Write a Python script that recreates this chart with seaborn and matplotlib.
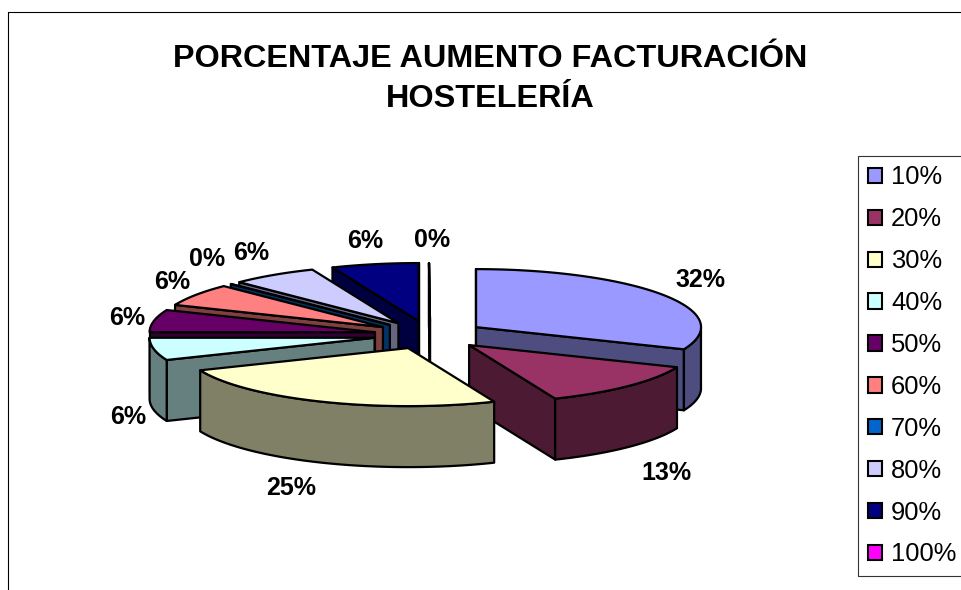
import numpy as np
import matplotlib
matplotlib.use("Agg")
import matplotlib.pyplot as plt
from matplotlib.patches import Patch, Polygon, Rectangle
import seaborn as sns

# data
categories = ["10%", "20%", "30%", "40%", "50%", "60%", "70%", "80%", "90%", "100%"]
shares = [31.25, 12.5, 25, 6.25, 6.25, 6.25, 0, 6.25, 6.25, 0]
slice_labels = ["32%", "13%", "25%", "6%", "6%", "6%", "0%", "6%", "6%", "0%"]
top_colors = ["#9999FF", "#993366", "#FFFFCC", "#CCFFFF", "#660066",
              "#FF8080", "#0066CC", "#CCCCFF", "#000080", "#FF00FF"]
title_text = "PORCENTAJE AUMENTO FACTURACIÓN\nHOSTELERÍA"

# layout, in figure pixels
CX, CY = 429.5, 335
RX, RY = 225, 58
EXPLODE_X, EXPLODE_Y = 56, 14.2
DEPTH = 61
label_xy = [(700, 280), (666, 473), (291, 488), (128, 417), (127, 318),
            (172, 282), (207, 259), (251, 253), (365, 241), (432, 240)]
# back slices first, so the front ones cover them
draw_order = [9, 8, 7, 6, 5, 4, 3, 0, 1, 2]

sns.set_style("white")
plt.rcParams["font.family"] = ["Liberation Sans", "DejaVu Sans"]
plt.rcParams["text.color"] = "black"

fig = plt.figure(figsize=(9.61, 5.9), dpi=100)
ax = fig.add_axes([0, 0, 1, 1])
ax.set_xlim(0, 961)
ax.set_ylim(590, 0)
ax.axis("off")

# chart frame, runs off the right and bottom of the picture
ax.add_patch(Rectangle((8, 12), 1000, 700, fill=False, edgecolor="black", lw=0.8))

ax.text(490, 79, title_text, ha="center", va="center", fontsize=23.3,
        fontweight="bold", linespacing=1.4)

colors = sns.color_palette(top_colors)
side_colors = [tuple(c * 0.5 for c in col) for col in colors]

edges = np.cumsum([0] + shares) / sum(shares) * 2 * np.pi


def face(points, color, z):
    ax.add_patch(Polygon(points, closed=True, facecolor=color, edgecolor="black",
                         lw=1.6, joinstyle="round", zorder=z))


for n, i in enumerate(draw_order):
    t1, t2 = edges[i], edges[i + 1]
    mid = (t1 + t2) / 2
    ox = CX + EXPLODE_X * np.sin(mid)
    oy = CY - EXPLODE_Y * np.cos(mid)
    z = 2 + n

    arc = np.linspace(t1, t2, 60)
    xs = ox + RX * np.sin(arc)
    ys = oy - RY * np.cos(arc)
    d = np.array([0, DEPTH])
    apex = np.array([ox, oy])
    rim = np.column_stack([xs, ys])

    # radial faces
    if -np.sin(t1) >= -1e-9:
        face([apex, rim[0], rim[0] + d, apex + d], side_colors[i], z)
    if np.sin(t2) >= -1e-9:
        face([apex, rim[-1], rim[-1] + d, apex + d], side_colors[i], z)

    # outer wall, only the part that faces the viewer
    front = np.cos(arc) <= 0
    if front.sum() > 1:
        r = rim[front]
        face(np.vstack([r, (r + d)[::-1]]), side_colors[i], z)

    # top
    face(np.vstack([apex, rim]), colors[i], z)

for label, (x, y) in zip(slice_labels, label_xy):
    ax.text(x, y, label, ha="center", va="center", fontsize=18,
            fontweight="bold", zorder=20)

handles = [Patch(facecolor=c, edgecolor="black", lw=1.5, label=l)
           for c, l in zip(colors, categories)]
ax.legend(handles=handles, loc="upper left", bbox_to_anchor=(858, 155.5),
          bbox_transform=ax.transData, borderaxespad=0, fontsize=18.4,
          frameon=True, fancybox=False, framealpha=1, edgecolor="#333333",
          handlelength=0.55, handleheight=0.55, handletextpad=0.35,
          labelspacing=0.70, borderpad=0.39).get_frame().set_linewidth(0.8)

fig.savefig("out.png", dpi=100)
